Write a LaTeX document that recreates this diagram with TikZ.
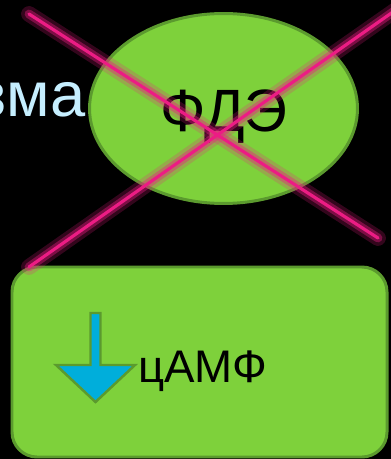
\documentclass[tikz,border=0pt]{standalone}
\usepackage{fontspec}
\setmainfont{Liberation Sans}
\usetikzlibrary{shapes.geometric}
\definecolor{leaf}{HTML}{7ED13B}
\definecolor{leafdark}{HTML}{5B9A2E}
\definecolor{crosspink}{HTML}{EC1C84}
\definecolor{skyblue}{HTML}{00AEDB}
\definecolor{paleblue}{HTML}{C6EFFF}
\tikzset{
	enzyme/.style={ellipse, draw=leafdark, fill=leaf, line width=1.7pt, inner sep=0pt,
		minimum width=5.36cm, minimum height=3.8cm},
	resultbox/.style={draw=leafdark, fill=leaf, line width=1.7pt, rounded corners=0.5cm},
	glow/.style={crosspink, line cap=round, opacity=0.22, line width=9pt},
	glowmid/.style={crosspink, line cap=round, opacity=0.4, line width=5pt},
	strike/.style={crosspink, line cap=round, line width=1.8pt}
}
\begin{document}
\begin{tikzpicture}[x=0.02cm, y=-0.02cm]
	\fill[black] (0,0) rectangle (391,459);
	\useasboundingbox (0,0) rectangle (391,459);
	
	% cut text on the left
	\node[anchor=base east, inner sep=0pt, text=paleblue, font=\fontsize{36}{36}\selectfont] (word) at (86,117) {зма};
	
	% enzyme
	\node[enzyme] (pde) at (223.5,108.5) {};
	\node[font=\fontsize{34}{34}\selectfont, inner sep=0pt] (pdename) at (224,117) {ФДЭ};
	
	% result box
	\draw[resultbox] (12,267) rectangle (387,457);
	\draw[fill=skyblue, draw=leafdark, line width=1.4pt, line join=miter]
		(90.5,313) -- (100.5,313) -- (100.5,365) -- (135,365) -- (95.5,402)
		-- (56,365) -- (90.5,365) -- cycle;
	\node[anchor=base west, inner sep=0pt, font=\fontsize{26}{26}\selectfont] (camp) at (138,382) {цАМФ};
	
	% cross
	\coordinate (a1) at (29,14);
	\coordinate (a2) at (378,238);
	\coordinate (b1) at (29,267);
	\coordinate (b2) at (400,7);
	\foreach \s in {glow, glowmid, strike}{
		\draw[\s] (a1) -- (a2);
		\draw[\s] (b1) -- (b2);
	}
\end{tikzpicture}
\end{document}
